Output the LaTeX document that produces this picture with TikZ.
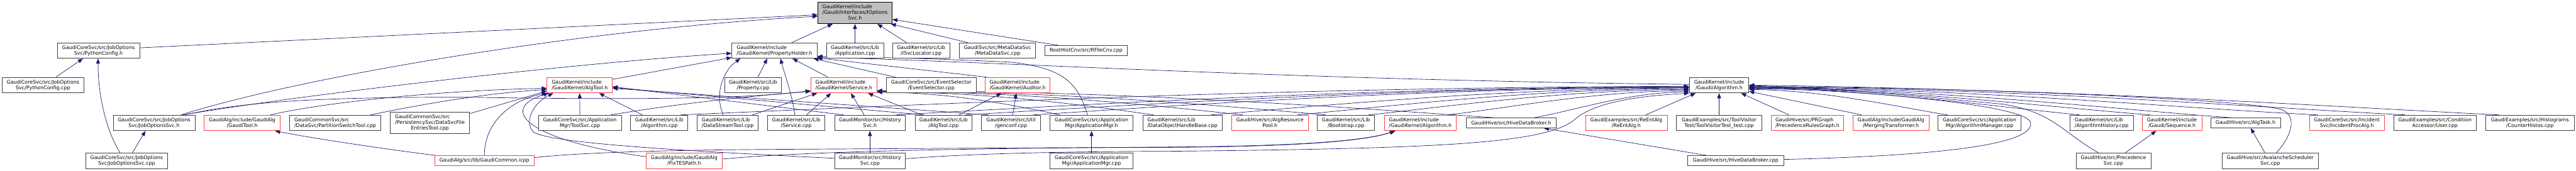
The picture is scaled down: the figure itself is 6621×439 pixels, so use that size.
\documentclass[tikz,border=0pt]{standalone}
\usepackage{fontspec}
\setmainfont{DejaVu Sans}
\usetikzlibrary{arrows.meta}
\definecolor{edgec}{HTML}{191970}
\definecolor{redb}{HTML}{FF4040}
\definecolor{grayb}{HTML}{404040}
\newcommand{\dxf}{\fontsize{12.8}{14.7}\selectfont}
\pgfdeclarelayer{bgl}
\pgfdeclarelayer{edl}
\pgfsetlayers{bgl,edl,main}
\begin{document}
\begin{tikzpicture}[x=1pt,y=-1pt,
  nbox/.style={draw=grayb, line width=1.2pt, fill=white, inner sep=0pt, font=\dxf, align=center, minimum height=40pt},
  rbox/.style={draw=redb},
  mbox/.style={draw=black, fill=black!25},
  lbox/.style={align=left},
  edg/.style={draw=edgec, line width=1.1pt, -{Triangle[length=13pt,width=10pt]}}]
\begin{pgfonlayer}{bgl}
\fill[white] (0,0) rectangle (6621,439);
\end{pgfonlayer}
\useasboundingbox (0,0) rectangle (6621,439);

% row 0
\node[nbox, mbox, minimum width=191pt, minimum height=55pt] (n00) at (2197.5,33.5) {\begin{tabular}{@{}l@{}}GaudiKernel/include\\/Gaudi/Interfaces/IOptions\\\multicolumn{1}{@{}c@{}}{Svc.h}\end{tabular}};
% row 1
\node[nbox, minimum width=212pt] (pyh) at (253,130) {GaudiCoreSvc/src/JobOptions\\Svc/PythonConfig.h};
\node[nbox, lbox, minimum width=219pt] (ph) at (1990.5,130) {GaudiKernel/include\\/GaudiKernel/PropertyHolder.h};
\node[nbox, minimum width=147pt] (app) at (2197.5,130) {GaudiKernel/src/Lib\\/Application.cpp};
\node[nbox, minimum width=147pt] (isl) at (2367.5,130) {GaudiKernel/src/Lib\\/ISvcLocator.cpp};
\node[nbox, minimum width=196pt] (meta) at (2564,130) {GaudiSvc/src/MetaDataSvc\\/MetaDataSvc.cpp};
\node[nbox, minimum width=211pt, minimum height=26pt] (rfc) at (2791.5,130) {RootHistCnv/src/RFileCnv.cpp};
% row 2
\node[nbox, minimum width=211pt] (pyc) at (110.5,219) {GaudiCoreSvc/src/JobOptions\\Svc/PythonConfig.cpp};
\node[nbox, rbox, lbox, minimum width=168pt] (alh) at (1490,219) {GaudiKernel/include\\/GaudiKernel/AlgTool.h};
\node[nbox, minimum width=147pt] (prop) at (1935.5,219) {GaudiKernel/src/Lib\\/Property.cpp};
\node[nbox, rbox, lbox, minimum width=170pt] (svh) at (2169,219) {GaudiKernel/include\\/GaudiKernel/Service.h};
\node[nbox, minimum width=231pt] (evs) at (2393.5,219) {GaudiCoreSvc/src/EventSelector\\/EventSelector.cpp};
\node[nbox, rbox, lbox, minimum width=167pt] (aud) at (2615.5,219) {GaudiKernel/include\\/GaudiKernel/Auditor.h};
\node[nbox, minimum width=153pt] (galg) at (4418.5,219) {GaudiKernel/include\\/Gaudi/Algorithm.h};
% row 3
\node[nbox, minimum width=210pt] (josh) at (396,316) {GaudiCoreSvc/src/JobOptions\\Svc/JobOptionsSvc.h};
\node[nbox, rbox, minimum width=195pt] (gth) at (622.5,316) {GaudiAlg/include/GaudiAlg\\/GaudiTool.h};
\node[nbox, lbox, minimum width=235pt] (pst) at (861.5,316) {GaudiCommonSvc/src\\/DataSvc/PartitionSwitchTool.cpp};
\node[nbox, minimum width=204pt, minimum height=54pt] (dsfe) at (1105,316) {\begin{tabular}{@{}l@{}}GaudiCommonSvc/src\\/PersistencySvc/DataSvcFile\\\multicolumn{1}{@{}c@{}}{EntriesTool.cpp}\end{tabular}};
\node[nbox, minimum width=213pt] (tsv) at (1490.5,316) {GaudiCoreSvc/src/Application\\Mgr/ToolSvc.cpp};
\node[nbox, minimum width=147pt] (algc) at (1694.5,316) {GaudiKernel/src/Lib\\/Algorithm.cpp};
\node[nbox, lbox, minimum width=157pt] (dst) at (1870.5,316) {GaudiKernel/src/Lib\\/DataStreamTool.cpp};
\node[nbox, minimum width=147pt] (svc) at (2046.5,316) {GaudiKernel/src/Lib\\/Service.cpp};
\node[nbox, minimum width=182pt] (hsh) at (2236,316) {GaudiMonitor/src/History\\Svc.h};
\node[nbox, minimum width=146pt] (atc) at (2425,316) {GaudiKernel/src/Lib\\/AlgTool.cpp};
\node[nbox, minimum width=151pt] (gen) at (2598.5,316) {GaudiKernel/src/Util\\/genconf.cpp};
\node[nbox, minimum width=213pt] (amh) at (2805.5,316) {GaudiCoreSvc/src/Application\\Mgr/ApplicationMgr.h};
\node[nbox, lbox, minimum width=204pt] (dohb) at (3039,316) {GaudiKernel/src/Lib\\/DataObjectHandleBase.cpp};
\node[nbox, rbox, minimum width=198pt] (arp) at (3264,316) {GaudiHive/src/AlgResource\\Pool.h};
\node[nbox, minimum width=147pt] (boot) at (3459.5,316) {GaudiKernel/src/Lib\\/Bootstrap.cpp};
\node[nbox, rbox, lbox, minimum width=185pt] (gkalg) at (3650.5,316) {GaudiKernel/include\\/GaudiKernel/Algorithm.h};
\node[nbox, minimum width=232pt, minimum height=26pt] (hdbh) at (3884,316) {GaudiHive/src/HiveDataBroker.h};
\node[nbox, rbox, minimum width=210pt] (reent) at (4180,316) {GaudiExamples/src/ReEntAlg\\/ReEntAlg.h};
\node[nbox, minimum width=219pt] (tvt) at (4418.5,316) {GaudiExamples/src/ToolVisitor\\Test/ToolVisitorTest\_test.cpp};
\node[nbox, rbox, lbox, minimum width=187pt] (prg) at (4645.5,316) {GaudiHive/src/PRGraph\\/PrecedenceRulesGraph.h};
\node[nbox, rbox, minimum width=196pt] (mtr) at (4860,316) {GaudiAlg/include/GaudiAlg\\/MergingTransformer.h};
\node[nbox, minimum width=214pt] (amc) at (5088,316) {GaudiCoreSvc/src/Application\\Mgr/AlgorithmManager.cpp};
\node[nbox, lbox, minimum width=163pt] (ahc) at (5401.5,316) {GaudiKernel/src/Lib\\/AlgorithmHistory.cpp};
\node[nbox, rbox, minimum width=153pt] (seq) at (5582.5,316) {GaudiKernel/include\\/Gaudi/Sequence.h};
\node[nbox, minimum width=179pt, minimum height=26pt] (atk) at (5771.5,316) {GaudiHive/src/AlgTask.h};
\node[nbox, rbox, minimum width=192pt] (ipa) at (6032,316) {GaudiCoreSvc/src/Incident\\Svc/IncidentProcAlg.h};
\node[nbox, minimum width=213pt] (user) at (6258.5,316) {GaudiExamples/src/Condition\\Accessor/User.cpp};
\node[nbox, minimum width=227pt] (chist) at (6502.5,316) {GaudiExamples/src/Histograms\\/CounterHistos.cpp};
% row 4
\node[nbox, minimum width=211pt] (josc) at (325.5,413) {GaudiCoreSvc/src/JobOptions\\Svc/JobOptionsSvc.cpp};
\node[nbox, rbox, minimum width=256pt, minimum height=25pt] (gci) at (1245,412.5) {GaudiAlg/src/lib/GaudiCommon.icpp};
\node[nbox, rbox, minimum width=195pt] (fix) at (1758.5,413) {GaudiAlg/include/GaudiAlg\\/FixTESPath.h};
\node[nbox, minimum width=182pt] (hsc) at (2236,413) {GaudiMonitor/src/History\\Svc.cpp};
\node[nbox, minimum width=213pt] (amcpp) at (2805.5,413) {GaudiCoreSvc/src/Application\\Mgr/ApplicationMgr.cpp};
\node[nbox, minimum width=246pt, minimum height=25pt] (hdbc) at (4461,412.5) {GaudiHive/src/HiveDataBroker.cpp};
\node[nbox, minimum width=192pt] (psc) at (5432,413) {GaudiHive/src/Precedence\\Svc.cpp};
\node[nbox, minimum width=248pt] (avs) at (5835,413) {GaudiHive/src/AvalancheScheduler\\Svc.cpp};

\begin{pgfonlayer}{edl}
% into IOptionsSvc.h
\draw[edg] ([yshift=7pt]pyh.east) -- ([yshift=-4.5pt]n00.west);
\draw[edg] ([xshift=69pt]josh.north) .. controls (800,190) and (1550,70) .. ([yshift=-8.5pt]n00.west);
\draw[edg] ([xshift=44.5pt]ph.north) -- ([xshift=-57.5pt]n00.south);
\draw[edg] (app.north) -- (n00.south);
\draw[edg] ([xshift=-37.5pt]isl.north) -- ([xshift=57.5pt]n00.south);
\draw[edg] ([xshift=-77pt]meta.north) -- ([xshift=-4pt]n00.south east);
\draw[edg] ([xshift=-71.5pt]rfc.north) -- ([yshift=-16.5pt]n00.east);
% PythonConfig / JobOptions
\draw[edg] ([xshift=33pt]pyc.north) -- ([xshift=-40pt]pyh.south);
\draw[edg] ([xshift=-17pt]josc.north) .. controls (275,340) and (252,250) .. ([xshift=-1pt]pyh.south);
\draw[edg] ([xshift=15pt]josc.north) -- ([xshift=-22pt]josh.south);
% GaudiTool
\draw[edg] ([xshift=-126pt]gci.north) .. controls (1000,385) and (800,355) .. ([xshift=84.5pt]gth.south);
% PropertyHolder.h
\draw[edg] ([xshift=74pt]josh.north) .. controls (800,240) and (1500,160) .. ([yshift=-7pt]ph.west);
\draw[edg] ([yshift=15pt]alh.east) -- ([yshift=-18pt]ph.west);
\draw[edg] ([xshift=-11.5pt]dst.north) .. controls (1835,240) and (1860,180) .. ([xshift=-87.5pt]ph.south);
\draw[edg] ([xshift=12.5pt]prop.north) -- ([xshift=-18.5pt]ph.south);
\draw[edg] ([xshift=-3.5pt]svc.north) .. controls (2035,240) and (2015,185) .. ([xshift=15.5pt]ph.south);
\draw[edg] ([xshift=-41pt]svh.north) -- ([xshift=46.5pt]ph.south);
\draw[edg] ([xshift=-91.5pt]evs.north) -- ([xshift=100.5pt]ph.south);
\draw[edg] ([xshift=-10.5pt]amh.north) .. controls (2770,210) and (2730,175) .. (2600,160) .. controls (2400,150) and (2200,146) .. ([yshift=-15pt]ph.east);
\draw[edg] ([yshift=2pt]galg.west) .. controls (3300,205) and (2600,160) .. ([yshift=-17pt]ph.east);
\draw[edg] ([xshift=-80pt]aud.north) -- ([yshift=-19pt]ph.east);
% AlgTool.h
\draw[edg] ([xshift=72.5pt]gth.north) .. controls (850,260) and (1150,232) .. ([yshift=-8pt]alh.west);
\draw[edg] ([xshift=90.5pt]pst.north) .. controls (1100,265) and (1250,240) .. ([yshift=-11pt]alh.west);
\draw[edg] ([yshift=24pt]dsfe.east) -- ([yshift=-15pt]alh.west);
\draw[edg] (gci.north) .. controls (1245,310) and (1320,255) .. (alh.south west);
\draw[edg] ([yshift=10pt]fix.west) .. controls (1350,360) and (1280,280) .. ([xshift=-80pt]alh.south);
\draw[edg] ([yshift=6pt]hsc.west) .. controls (1800,390) and (1420,370) .. (1372,340) .. controls (1345,315) and (1370,265) .. ([xshift=-68pt]alh.south);
\draw[edg] (tsv.north) -- (alh.south);
\draw[edg] ([xshift=-43.5pt]algc.north) -- ([xshift=50pt]alh.south);
\draw[edg] ([xshift=-68pt]hsh.north) -- ([yshift=-4pt]alh.east);
\draw[edg] ([xshift=-50pt]atc.north) -- ([yshift=-6pt]alh.east);
\draw[edg] ([xshift=-58pt]gen.north) -- ([yshift=-8pt]alh.east);
% Service.h
\draw[edg] ([xshift=79pt]josh.north) .. controls (650,255) and (900,250) .. (1200,250) .. controls (1500,255) and (1900,258) .. ([yshift=-14pt]svh.west);
\draw[edg] ([xshift=80pt]tsv.north) .. controls (1750,265) and (1950,245) .. ([yshift=-16pt]svh.west);
\draw[edg] ([xshift=63.5pt]dst.north) -- ([xshift=-69pt]svh.south);
\draw[edg] ([xshift=26.5pt]svc.north) -- ([xshift=-33pt]svh.south);
\draw[edg] ([xshift=-15pt]hsh.north) -- ([xshift=18pt]svh.south);
\draw[edg] ([xshift=-56pt]atc.north) -- ([xshift=62pt]svh.south);
\draw[edg] ([xshift=-81.5pt]amh.north) .. controls (2606,270) and (2442,238) .. ([yshift=-18pt]svh.east);
\draw[edg] ([xshift=-74pt]dohb.north) .. controls (2787,270) and (2538,237) .. ([yshift=-17pt]svh.east);
\draw[edg] ([xshift=-70pt]arp.north) .. controls (2959,270) and (2630,236) .. ([yshift=-16pt]svh.east);
\draw[edg] ([xshift=-52.5pt]boot.north) .. controls (3119,270) and (2715,235) .. ([yshift=-15pt]svh.east);
\draw[edg] ([xshift=-47pt]hdbh.north) .. controls (3441,275) and (2887,234) .. ([yshift=-14pt]svh.east);
% Auditor.h
\draw[edg] ([xshift=40pt]atc.north) -- ([xshift=-41.5pt]aud.south);
\draw[edg] ([xshift=4.5pt]gen.north) -- ([xshift=-3.5pt]aud.south);
% single links
\draw[edg] (amcpp.north) -- (amh.south);
\draw[edg] (hsc.north) -- (hsh.south);
\draw[edg] ([xshift=-75pt]hdbc.north) -- ([xshift=84pt]hdbh.south);
\draw[edg] ([xshift=31pt]psc.north) -- ([xshift=-40.5pt]seq.south);
\draw[edg] ([xshift=-14pt]avs.north) -- ([xshift=13.5pt]atk.south);
% GaudiKernel/Algorithm.h
\draw[edg] ([yshift=4pt]fix.east) .. controls (2100,386) and (2600,381) .. (3000,378) .. controls (3300,376) and (3500,365) .. ([xshift=-65.5pt]gkalg.south);
\draw[edg] ([yshift=7.5pt]gci.east) .. controls (1500,392) and (1700,386) .. (2000,384) .. controls (2500,381) and (2800,379) .. (3000,379) .. controls (3300,377) and (3500,366) .. ([xshift=-64pt]gkalg.south);
% Gaudi/Algorithm.h from the left
\draw[edg] ([xshift=55pt]algc.north) .. controls (2398,268) and (3305,224) .. ([yshift=-3pt]galg.west);
\draw[edg] ([xshift=66pt]hsh.north) .. controls (2812,268) and (3526,225) .. ([yshift=-4pt]galg.west);
\draw[edg] ([xshift=56pt]atc.north) .. controls (2946,268) and (3598,226) .. ([yshift=-5pt]galg.west);
\draw[edg] ([xshift=58pt]gen.north) .. controls (3078,268) and (3668,227) .. ([yshift=-6pt]galg.west);
\draw[edg] ([xshift=74pt]dohb.north) .. controls (3420,270) and (3850,228) .. ([yshift=-7pt]galg.west);
\draw[edg] ([xshift=71pt]arp.north) .. controls (3587,272) and (3939,229) .. ([yshift=-9pt]galg.west);
\draw[edg] ([xshift=58pt]boot.north) .. controls (3724,274) and (4012,232) .. ([yshift=-11pt]galg.west);
\draw[edg] ([xshift=70pt]gkalg.north) .. controls (3876,278) and (4093,235) .. ([yshift=-14pt]galg.west);
\draw[edg] ([xshift=60pt]hdbh.north) .. controls (4043,285) and (4183,238) .. ([yshift=-17pt]galg.west);
\draw[edg] ([yshift=5pt]hsc.east) .. controls (2500,395) and (2700,390) .. (3000,389) .. controls (3700,382) and (3980,370) .. (4050,305) .. controls (4110,255) and (4250,245) .. (galg.south west);
% Gaudi/Algorithm.h from below
\draw[edg] ([xshift=50pt]reent.north) -- ([xshift=-60.5pt]galg.south);
\draw[edg] (tvt.north) -- (galg.south);
\draw[edg] ([xshift=-47.5pt]prg.north) -- ([xshift=56.5pt]galg.south);
% Gaudi/Algorithm.h from the right
\draw[edg] ([xshift=-75pt]mtr.north) -- ([yshift=-16pt]galg.east);
\draw[edg] ([xshift=-83pt]amc.north) .. controls (4877,275) and (4699,233) .. ([yshift=-11pt]galg.east);
\draw[edg] ([xshift=-56.5pt]ahc.north) .. controls (5132,275) and (4835,231) .. ([yshift=-9pt]galg.east);
\draw[edg] ([xshift=-55.5pt]seq.north) .. controls (5269,276) and (4908,230) .. ([yshift=-8pt]galg.east);
\draw[edg] ([xshift=-39.5pt]atk.north) .. controls (5423,280) and (4990,229) .. ([yshift=-7pt]galg.east);
\draw[edg] ([xshift=-75pt]ipa.north) .. controls (5592,278) and (5080,228) .. ([yshift=-6pt]galg.east);
\draw[edg] ([xshift=-76.5pt]user.north) .. controls (5760,274) and (5170,226) .. ([yshift=-5pt]galg.east);
\draw[edg] ([xshift=-79.5pt]chist.north) .. controls (5941,272) and (5266,225) .. ([yshift=-4pt]galg.east);
\draw[edg] ([yshift=2.5pt]hdbc.east) .. controls (5000,400) and (5230,370) .. (5219,315) .. controls (5210,270) and (4800,235) .. ([yshift=-2pt]galg.east);
\draw[edg] ([xshift=-39pt]psc.north) .. controls (5300,340) and (5280,290) .. (5150,268) .. controls (4900,245) and (4700,225) .. ([yshift=-1pt]galg.east);
\draw[edg] ([xshift=16pt]avs.north) .. controls (5890,350) and (5905,300) .. (5867,283) .. controls (5800,255) and (5000,225) .. (galg.east);
\end{pgfonlayer}
\end{tikzpicture}
\end{document}
